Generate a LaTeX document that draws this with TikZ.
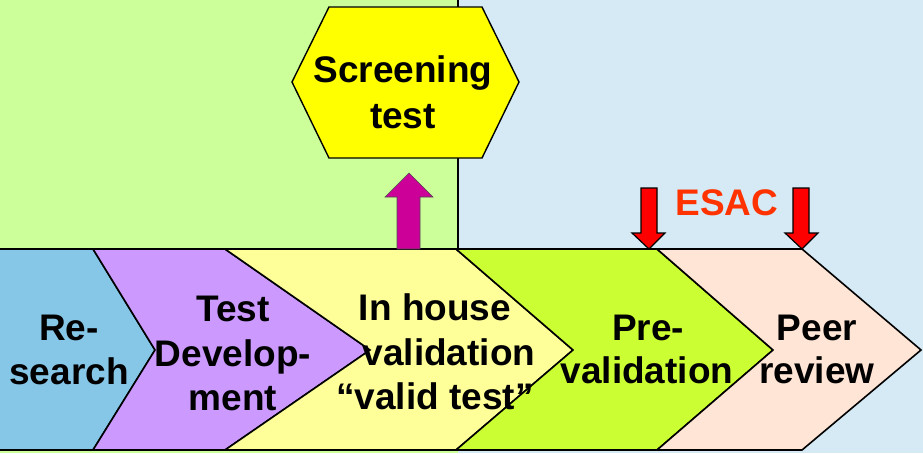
\documentclass[tikz,border=0pt]{standalone}
\usepackage{fontspec}
\setmainfont{Liberation Sans}
\begin{document}
\begin{tikzpicture}[x=1pt,y=-1pt,
  chev/.style={draw=black,line width=1.6pt,line join=miter},
  lbl/.style={font=\fontsize{37}{44}\selectfont\bfseries,anchor=base,inner sep=0pt},
  redarrow/.style={fill=arrowred,draw=black,line width=1.2pt},
]
\definecolor{bggreen}{HTML}{CCFF99}
\definecolor{bgblue}{HTML}{D5EAF5}
\definecolor{cblue}{HTML}{86C6E7}
\definecolor{cpurple}{HTML}{CC99FF}
\definecolor{cyellow}{HTML}{FFFF99}
\definecolor{clime}{HTML}{CCFF33}
\definecolor{cpeach}{HTML}{FFE5D5}
\definecolor{hexyellow}{HTML}{FFFF00}
\definecolor{magentaarrow}{HTML}{CC0099}
\definecolor{arrowred}{HTML}{FF0000}
\definecolor{esacred}{HTML}{FF3300}
\useasboundingbox (0,0) rectangle (923,453);
% backgrounds
\fill[bggreen] (0,0) rectangle (458,453);
\fill[bgblue] (458,0) rectangle (923,453);
\draw[line width=1.4pt] (458,0) -- (458,249);
% chevrons
\filldraw[chev,fill=cblue] (-2,249) -- (93,249) -- (155,350) -- (93,450) -- (-2,450) -- cycle;
\filldraw[chev,fill=cpurple] (93,249) -- (225,249) -- (370,350) -- (225,450) -- (93,450) -- (155,350) -- cycle;
\filldraw[chev,fill=cyellow] (225,249) -- (456,249) -- (573,350) -- (456,450) -- (225,450) -- (370,350) -- cycle;
\filldraw[chev,fill=clime] (456,249) -- (657,249) -- (773,350) -- (657,450) -- (456,450) -- (573,350) -- cycle;
\filldraw[chev,fill=cpeach] (657,249) -- (802,249) -- (921,350) -- (802,450) -- (657,450) -- (773,350) -- cycle;
% hexagon
\filldraw[fill=hexyellow,draw=black,line width=1.4pt] (329,7) -- (482,7) -- (519,82) -- (482,158) -- (329,158) -- (292,82) -- cycle;
% magenta arrow
\filldraw[fill=magentaarrow,draw=black!70,line width=0.6pt] (397,249) -- (397,197) -- (385,197) -- (409,173) -- (433,197) -- (420,197) -- (420,249) -- cycle;
% red arrows
\filldraw[redarrow] (641,188) -- (657,188) -- (657,233) -- (665,233) -- (649,249) -- (632,233) -- (641,233) -- cycle;
\filldraw[redarrow] (793,188) -- (809,188) -- (809,233) -- (818,233) -- (802,249) -- (785,233) -- (793,233) -- cycle;
% texts
\node[lbl] (scr1) at (403,82) {Screening};
\node[lbl] (scr2) at (403,128) {test};
\node[lbl,text=esacred] (esac) at (727,215) {ESAC};
\node[lbl] (res1) at (69,340) {Re-};
\node[lbl] (res2) at (69,384) {search};
\node[lbl] (dev1) at (233,321) {Test};
\node[lbl] (dev2) at (233,366) {Develop-};
\node[lbl] (dev3) at (233,410) {ment};
\node[lbl] (inh1) at (435,320) {In house};
\node[lbl] (inh2) at (449,365) {validation};
\node[lbl] (inh3) at (435,409) {“valid test”};
\node[lbl] (pre1) at (648,340) {Pre-};
\node[lbl] (pre2) at (647,383) {validation};
\node[lbl] (peer1) at (817,340) {Peer};
\node[lbl] (peer2) at (817,383) {review};
\end{tikzpicture}
\end{document}
